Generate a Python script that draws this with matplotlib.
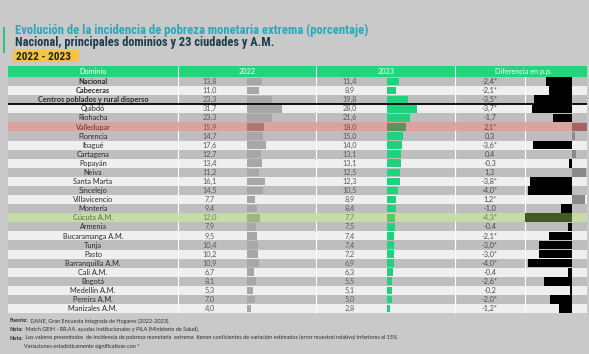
import matplotlib
matplotlib.use('Agg')
import matplotlib.pyplot as plt
from matplotlib import font_manager as fm
from matplotlib.patches import Rectangle

# ---------------- data ----------------
dominios = ["Nacional", "Cabeceras", "Centros poblados y rural disperso", "Quibdó",
            "Riohacha", "Valledupar", "Florencia", "Ibagué", "Cartagena", "Popayán",
            "Neiva", "Santa Marta", "Sincelejo", "Villavicencio", "Montería",
            "Cúcuta A.M.", "Armenia", "Bucaramanga A.M.", "Tunja", "Pasto",
            "Barranquilla A.M.", "Cali A.M.", "Bogotá", "Medellín A.M.",
            "Pereira A.M.", "Manizales A.M."]
v2022 = [13.8, 11.0, 23.3, 31.7, 23.3, 15.9, 14.7, 17.6, 12.7, 13.4, 11.2, 16.1, 14.5,
         7.7, 9.4, 12.0, 7.9, 9.5, 10.4, 10.2, 10.9, 6.7, 8.1, 5.3, 7.0, 4.0]
v2023 = [11.4, 8.9, 19.8, 28.0, 21.6, 18.0, 15.0, 14.0, 13.1, 13.1, 12.5, 12.3, 10.5,
         8.9, 8.4, 7.7, 7.5, 7.4, 7.4, 7.2, 6.9, 6.3, 5.5, 5.1, 5.0, 2.8]
diferencia = [-2.4, -2.1, -3.5, -3.7, -1.7, 2.1, 0.3, -3.6, 0.4, -0.3, 1.3, -3.8, -4.0,
              1.2, -1.0, -4.3, -0.4, -2.1, -3.0, -3.0, -4.0, -0.4, -2.6, -0.2, -2.0, -1.2]
significativa = [1, 1, 1, 1, 0, 1, 0, 1, 0, 0, 0, 1, 1, 1, 0, 1, 0, 1, 1, 1, 1, 0, 1, 0, 1, 1]
filas_negrita = ["Nacional", "Cabeceras", "Centros poblados y rural disperso"]
resaltado_rojo = "Valledupar"
resaltado_verde = "Cúcuta A.M."
encabezados = ["Dominio", "2022", "2023", "Diferencia en p.p."]

titulo1 = "Evolución de la incidencia de pobreza monetaria extrema (porcentaje)"
titulo2 = "Nacional, principales dominios y 23 ciudades y A.M."
periodo = "2022 - 2023"
notas = [("Fuente:", " DANE, Gran Encuesta Integrada de Hogares (2022-2023)."),
         ("Nota:", " Match GEIH - RR.AA. ayudas institucionales y PILA (Ministerio de Salud)."),
         ("Nota:", " Los valores presentados  de incidencia de pobreza monetaria  extrema  tienen coeficientes de variación estimados (error muestral relativo) inferiores al 15%"),
         ("", "Variaciones estadísticamente significativas con *")]

def fmt(v):
    return f"{v:.1f}".replace('.', ',')

# ---------------- fonts ----------------
names = {f.name for f in fm.fontManager.ttflist}
def pick(cands, default):
    for c in cands:
        if c in names:
            return c
    return default
COND = pick(['Ubuntu Condensed', 'Roboto Condensed', 'Liberation Sans Narrow',
             'DejaVu Sans Condensed', 'Open Sans Condensed'], 'Roboto')
TFONT = pick(['Lato', 'Open Sans', 'Roboto'], 'DejaVu Sans')

# ---------------- figure ----------------
W, H = 589, 354
fig = plt.figure(figsize=(W / 100, H / 100), dpi=100)
fig.patch.set_facecolor('#c9c9c9')
renderer = fig.canvas.get_renderer()

def px_axes(z):
    a = fig.add_axes([0, 0, 1, 1], zorder=z)
    a.set_xlim(0, W)
    a.set_ylim(H, 0)
    a.axis('off')
    a.patch.set_alpha(0)
    return a

base = px_axes(0)

def fit(t, target):
    w = t.get_window_extent(renderer=renderer).width
    t.set_fontsize(t.get_fontsize() * target / w)
    return t.get_fontsize()

# title block
base.add_patch(Rectangle((3.3, 27), 2, 26, color='#2ec27e', lw=0))
t1 = base.text(15, 34, titulo1, fontsize=9, family=COND, weight='bold',
               color='#27a9ba', va='baseline', ha='left')
fit(t1, 353)
t2 = base.text(15, 46, titulo2, fontsize=9, family=COND, weight='bold',
               color='#1d3c4c', va='baseline', ha='left')
fit(t2, 260)
base.add_patch(Rectangle((12.5, 50), 66, 12, color='#f6c342', lw=0))
t3 = base.text(16, 60, periodo, fontsize=7, family=COND, weight='bold',
               color='#222222', va='baseline', ha='left')
fit(t3, 56)

# table geometry
X0, X1 = 8, 587
HEAD_TOP, ROW_TOP, ROW_H = 66, 77, 9.08
n = len(dominios)
TABLE_BOT = ROW_TOP + n * ROW_H
seps = [178, 316, 455]

base.add_patch(Rectangle((X0, HEAD_TOP), X1 - X0, ROW_TOP - HEAD_TOP, color='#22d47a', lw=0))
for i in range(n):
    c = '#bebebe' if i % 2 == 0 else '#efefef'
    base.add_patch(Rectangle((X0, ROW_TOP + i * ROW_H), X1 - X0, ROW_H, color=c, lw=0))
base.vlines(seps, HEAD_TOP, TABLE_BOT, color='white', lw=0.8)
base.vlines([525], ROW_TOP, TABLE_BOT, color='white', lw=0.8)

# font size for table
probe = base.text(0, 0, "Centros poblados y rural disperso", fontsize=5, family=TFONT, weight='bold')
FS = fit(probe, 110)
probe.remove()

hx = [93, 247, 386, 523]
for x, h in zip(hx, encabezados):
    base.text(x, (HEAD_TOP + ROW_TOP) / 2 + 0.3, h, fontsize=FS, family=TFONT,
              color='white', ha='center', va='center')

for i, name in enumerate(dominios):
    yc = ROW_TOP + (i + 0.5) * ROW_H + 0.1
    base.text(93, yc, name, fontsize=FS, family=TFONT, ha='center', va='center',
              weight='bold' if name in filas_negrita else 'normal', color='#2a2a2a')
    base.text(210, yc, fmt(v2022[i]), fontsize=FS, family=TFONT, ha='center',
              va='center', color='#5a5a5a')
    base.text(350, yc, fmt(v2023[i]), fontsize=FS, family=TFONT, ha='center',
              va='center', color='#5a5a5a')
    base.text(490, yc, fmt(diferencia[i]) + ('*' if significativa[i] else ''),
              fontsize=FS, family=TFONT, ha='center', va='center', color='#4a4a4a')

# footnotes
fy = [322.5, 331, 339.5, 348]
probe = base.text(10, 0, notas[2][0] + notas[2][1], fontsize=4, family=TFONT)
FN = fit(probe, 380)
probe.remove()
for (b, rest), y in zip(notas, fy):
    x = 10 if b else 24
    if b:
        tb = base.text(x, y, b, fontsize=FN, family=TFONT, weight='bold',
                       color='#2a2a2a', va='baseline')
        x += tb.get_window_extent(renderer=renderer).width
    base.text(x, y, rest, fontsize=FN, family=TFONT, color='#2a2a2a', va='baseline')

# ---------------- bar columns ----------------
def bar_axes(x0, x1, z=1):
    a = fig.add_axes([x0 / W, (H - TABLE_BOT) / H, (x1 - x0) / W, n * ROW_H / H], zorder=z)
    a.set_ylim(n - 0.5, -0.5)
    a.axis('off')
    a.patch.set_alpha(0)
    return a

ypos = list(range(n))
ax22 = bar_axes(247, 316)
ax22.set_xlim(0, 69 / 1.09)
ax22.barh(ypos, v2022, height=0.84, color='#a7a7a7', lw=0)

ax23 = bar_axes(386.5, 455)
ax23.set_xlim(0, 68.5 / 1.08)
ax23.barh(ypos, v2023, height=0.84, color='#1fd37e', lw=0)

axd = bar_axes(525, 587)
axd.set_xlim(-4.3, -4.3 + 62 / 10.9)
axd.barh(ypos, diferencia, height=0.95, lw=0,
         color=['#000000' if d < 0 else '#8a8a8a' for d in diferencia])

# ---------------- overlays ----------------
top = px_axes(5)
ir = dominios.index(resaltado_rojo)
ig = dominios.index(resaltado_verde)
top.add_patch(Rectangle((X0, ROW_TOP + ir * ROW_H), X1 - X0, ROW_H, color='#cb2b2b',
                        alpha=0.4, lw=0))
top.add_patch(Rectangle((X0, ROW_TOP + ig * ROW_H), X1 - X0, ROW_H, color='#96c455',
                        alpha=0.46, lw=0))
top.hlines(ROW_TOP + 3 * ROW_H - 0.3, X0, X1, color='black', lw=1.3)

fig.savefig('out.png', dpi=100, facecolor=fig.get_facecolor())
